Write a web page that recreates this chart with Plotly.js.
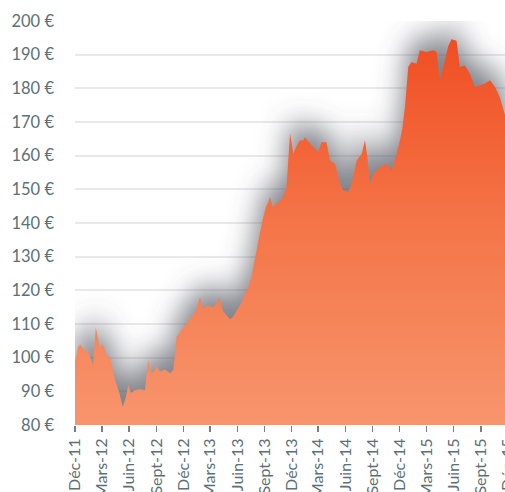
<!DOCTYPE html>
<html>
<head>
<meta charset="utf-8">
<script src="https://cdn.plot.ly/plotly-3.0.1.min.js"></script>
<style>
html,body{margin:0;padding:0;background:#fff;overflow:hidden;width:505px;height:492px;}
#chart{width:530px;height:492px;}
</style>
</head>
<body>
<svg width="0" height="0" style="position:absolute">
  <defs>
    <filter id="haloBlur" filterUnits="userSpaceOnUse" x="-200" y="-200" width="1000" height="1200">
      <feGaussianBlur in="SourceGraphic" stdDeviation="14" result="b"/>
      <feOffset in="b" dx="0" dy="-15"/>
    </filter>
  </defs>
</svg>
<div id="chart"></div>
<script>
// Dates of price readings
const dates = [
'2011-12-01','2011-12-11','2011-12-18','2011-12-31','2012-01-14','2012-01-24','2012-01-31','2012-02-09','2012-02-17','2012-02-23',
'2012-03-04','2012-03-17','2012-03-28','2012-04-03','2012-04-14','2012-04-29','2012-05-10','2012-05-21','2012-05-29','2012-06-07',
'2012-06-21','2012-07-07','2012-07-24','2012-08-04','2012-08-16','2012-08-24','2012-09-02','2012-09-13','2012-09-30','2012-10-17',
'2012-10-28','2012-11-08','2012-11-19','2012-11-30','2012-12-12','2012-12-23','2013-01-06','2013-01-16','2013-01-26','2013-02-06',
'2013-02-19','2013-03-11','2013-03-21','2013-04-01','2013-04-14','2013-04-27','2013-05-07','2013-05-17','2013-05-30','2013-06-16',
'2013-06-27','2013-07-08','2013-07-19','2013-07-27','2013-08-05','2013-08-16','2013-08-28','2013-09-06','2013-09-13','2013-09-19',
'2013-09-30','2013-10-13','2013-10-23','2013-11-03','2013-11-14','2013-11-20','2013-11-26','2013-12-01','2013-12-07','2013-12-16',
'2013-12-29','2014-01-09','2014-01-15','2014-01-29','2014-02-12','2014-03-01','2014-03-12','2014-03-29','2014-04-10','2014-04-27',
'2014-05-07','2014-05-13','2014-05-25','2014-06-10','2014-06-22','2014-06-30','2014-07-09','2014-07-26','2014-08-06','2014-08-14',
'2014-08-23','2014-09-03','2014-09-15','2014-09-25','2014-10-18','2014-11-04','2014-11-21','2014-12-02','2014-12-10','2014-12-19',
'2014-12-30','2015-01-10','2015-01-27','2015-02-07','2015-03-02','2015-03-24','2015-04-05','2015-04-11','2015-04-16','2015-04-27',
'2015-05-14','2015-05-25','2015-06-11','2015-06-22','2015-07-09','2015-07-26','2015-08-12','2015-08-29','2015-09-15','2015-10-02',
'2015-10-19','2015-11-04','2015-11-21','2015-12-05'
];
// Share price (€)
const prices = [
98.8,103,104,102.5,101.8,99.5,97.8,109,105,103,
104,100.8,100,98.4,93.4,89.5,85.4,88.4,91.9,89.5,
90.4,90.6,90.4,99.3,95.4,96,97.5,95.8,96.5,95.4,
96.3,106.2,107.5,109,110,111.7,113,115,118,114.5,
115.5,115,116,118,113.8,112.5,111.5,112,114,116.5,
119,121,124,128,131.9,137,141.8,145,146,147.7,
144.5,146,146.5,147.7,150.7,160,166.6,164,160.6,162.5,
164.6,164.5,165.5,164,162.6,161.1,164,164,158.6,157.6,
154,151.7,149.7,149.2,151.7,155,158.6,160.6,164.6,159.7,
151.7,154.7,155.5,156.7,157.6,155.7,160.6,164.6,168,174.5,
186.3,187.8,187.3,191.3,190.8,191.3,190.8,186,182.4,186.3,
192.6,194.6,194.1,186.3,186.8,184.4,180.4,180.9,181.4,182.4,
180.4,177.4,172.6,168
];
// Axis ticks
const tickDates = ['2011-12-01','2012-03-01','2012-06-01','2012-09-01','2012-12-01','2013-03-01','2013-06-01','2013-09-01',
'2013-12-01','2014-03-01','2014-06-01','2014-09-01','2014-12-01','2015-03-01','2015-06-01','2015-09-01','2015-12-01'];
const tickLabels = ['Déc-11','Mars-12','Juin-12','Sept-12','Déc-12','Mars-13','Juin-13','Sept-13',
'Déc-13','Mars-14','Juin-14','Sept-14','Déc-14','Mars-15','Juin-15','Sept-15','Déc-15'];

const traces = [
  // shadow shape (blurred after render)
  {x: dates, y: prices, type: 'scatter', mode: 'lines', fill: 'tozeroy',
   line: {width: 2, color: 'rgba(85,88,98,0.74)'}, fillcolor: 'rgba(85,88,98,0.74)',
   hoverinfo: 'skip', showlegend: false},
  // main area
  {x: dates, y: prices, type: 'scatter', mode: 'lines', fill: 'tozeroy',
   line: {width: 0, color: '#f04e23'},
   fillgradient: {type: 'vertical', start: 80, stop: 196,
     colorscale: [[0, '#f8956d'], [0.5, '#f47649'], [1, '#f04d22']]},
   showlegend: false}
];

const layout = {
  width: 530, height: 492,
  margin: {l: 75, r: 0, t: 21, b: 67},
  paper_bgcolor: '#ffffff', plot_bgcolor: '#ffffff',
  showlegend: false,
  font: {family: 'Lato, "Open Sans", sans-serif', color: '#5b7077'},
  xaxis: {
    type: 'date', range: ['2011-12-01', '2016-02-14'],
    tickvals: tickDates, ticktext: tickLabels, tickmode: 'array',
    tickangle: -90, ticks: 'outside', ticklen: 6, tickwidth: 1.5, tickcolor: '#6f8288',
    showgrid: false, zeroline: false, showline: false,
    tickfont: {size: 16, color: '#5b7077'}
  },
  yaxis: {
    range: [80, 200], dtick: 10, tick0: 80, ticksuffix: ' €',
    showgrid: true, gridcolor: '#e9e9e9', gridwidth: 2,
    zeroline: false, showline: false, ticks: '',
    ticklabelstandoff: 20,
    tickfont: {size: 16.5, color: '#5b7077'}
  }
};
function applyHalo(gd) {
  const first = gd.querySelector('.scatterlayer .trace');
  if (first) {
    first.setAttribute('filter', 'url(#haloBlur)');
    first.style.filter = 'url(#haloBlur)';
  }
}
Plotly.newPlot('chart', traces, layout, {displayModeBar: false, staticPlot: true}).then(applyHalo);
</script>
</body>
</html>
